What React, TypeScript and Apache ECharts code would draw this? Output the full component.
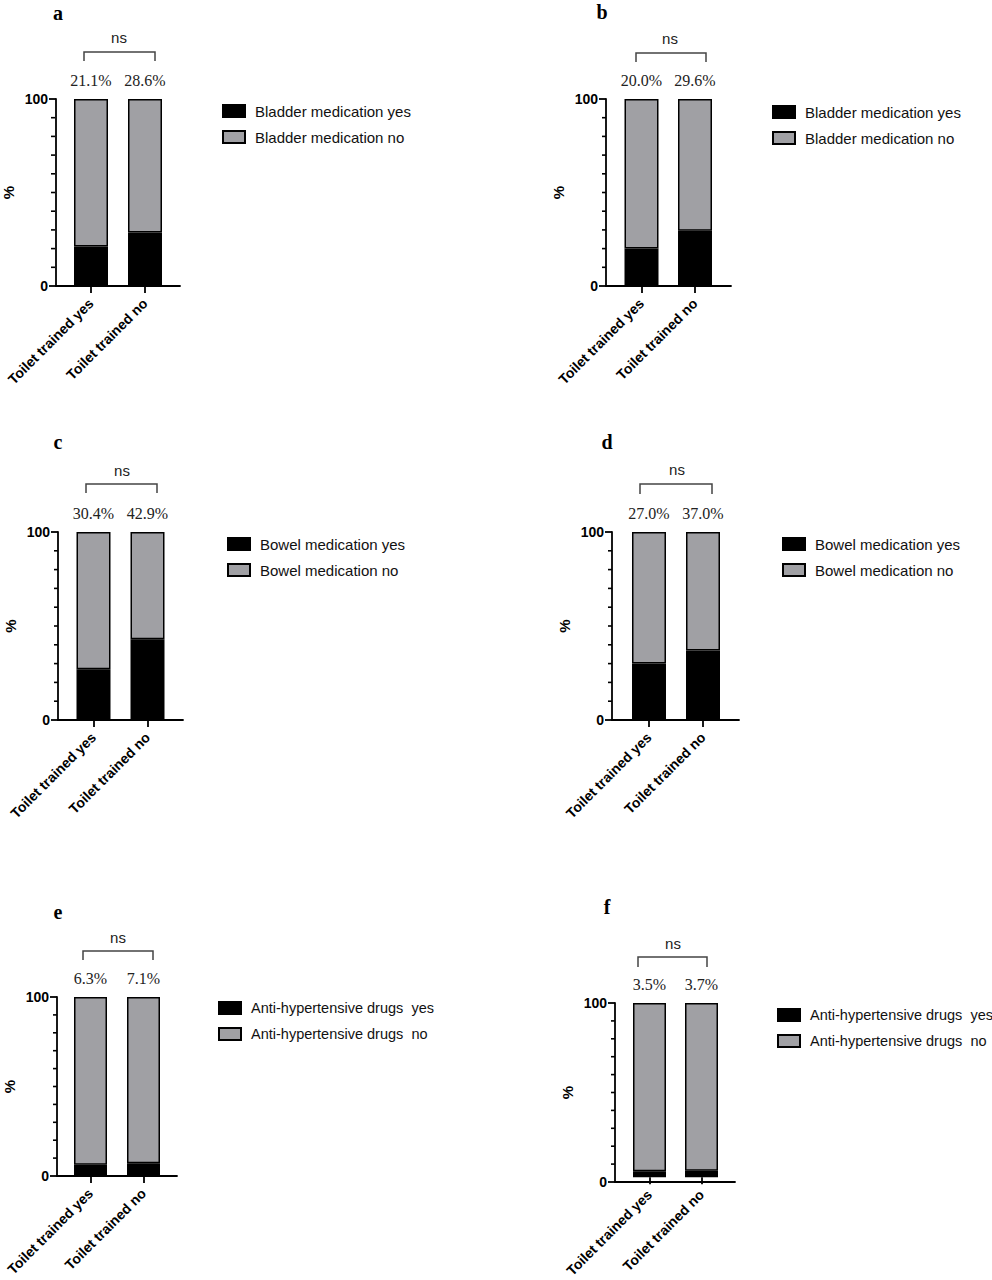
import React, { useEffect, useRef } from "react";
import * as echarts from "echarts";

// ---------- data ----------
const categories = ["Toilet trained yes", "Toilet trained no"];
const panelLetters = ["a", "b", "c", "d", "e", "f"];

const legendYes = [
  "Bladder medication yes",
  "Bladder medication yes",
  "Bowel medication yes",
  "Bowel medication yes",
  "Anti-hypertensive drugs  yes",
  "Anti-hypertensive drugs  yes",
];
const legendNo = [
  "Bladder medication no",
  "Bladder medication no",
  "Bowel medication no",
  "Bowel medication no",
  "Anti-hypertensive drugs  no",
  "Anti-hypertensive drugs  no",
];

const yesA = [21.1, 28.6];
const noA = [78.9, 71.4];
const yesB = [20.0, 29.6];
const noB = [80.0, 70.4];
const yesC = [27.0, 42.9];
const noC = [73.0, 57.1];
const yesD = [30.0, 37.0];
const noD = [70.0, 63.0];
const yesE = [6.3, 7.1];
const noE = [93.7, 92.9];
const yesF = [3.5, 3.7];
const noF = [96.5, 96.3];

const pctA = ["21.1%", "28.6%"];
const pctB = ["20.0%", "29.6%"];
const pctC = ["30.4%", "42.9%"];
const pctD = ["27.0%", "37.0%"];
const pctE = ["6.3%", "7.1%"];
const pctF = ["3.5%", "3.7%"];

const sigLabel = "ns";
const yTickValues = [0, 100];
const yMinorTickValues = [10, 20, 30, 40, 50, 60, 70, 80, 90];
const yAxisName = "%";

const yesSeries = [yesA, yesB, yesC, yesD, yesE, yesF];
const noSeries = [noA, noB, noC, noD, noE, noF];
const pctSeries = [pctA, pctB, pctC, pctD, pctE, pctF];

// ---------- layout (pixels) ----------
type Layout = {
  left: number; top: number; width: number; height: number;
  c1: number; c2: number; barW: number;
  letter: [number, number]; ns: [number, number];
  br: [number, number, number, number];
  legend: [number, number]; legendFont: number;
};
const layouts: Layout[] = [
  { left: 55, top: 99, width: 125, height: 187, c1: 91, c2: 145, barW: 34, letter: [58, 13], ns: [119, 37], br: [84, 155, 52, 61], legend: [222, 105], legendFont: 15 },
  { left: 606, top: 99, width: 125, height: 187, c1: 641.5, c2: 695, barW: 34, letter: [602, 12], ns: [670, 38], br: [636, 706, 53, 62], legend: [772, 106], legendFont: 15 },
  { left: 58, top: 532, width: 125, height: 188, c1: 93.5, c2: 147.5, barW: 34, letter: [58, 442], ns: [122, 470], br: [86, 157, 484, 493], legend: [227, 538], legendFont: 15 },
  { left: 612, top: 532, width: 127, height: 188, c1: 649, c2: 703, barW: 34, letter: [607, 442], ns: [677, 469], br: [640, 712, 484, 494], legend: [782, 538], legendFont: 15 },
  { left: 57, top: 997, width: 120, height: 179, c1: 90.5, c2: 143.5, barW: 33, letter: [58, 912], ns: [118, 937], br: [83, 153, 951, 960], legend: [218, 1002], legendFont: 14.5 },
  { left: 615, top: 1003, width: 120, height: 179, c1: 649.5, c2: 701.5, barW: 33, letter: [607, 907], ns: [673, 943], br: [638, 707, 957, 967], legend: [777, 1009], legendFont: 14.5 },
];

const SANS = "'Liberation Sans', Arial, Helvetica, sans-serif";
const SERIF = "'Liberation Serif', 'Times New Roman', serif";
const GREY = "#a0a0a4";

function buildOption() {
  const grid: any[] = [];
  const xAxis: any[] = [];
  const yAxis: any[] = [];
  const series: any[] = [];
  const legend: any[] = [];
  const graphic: any[] = [];

  layouts.forEach((L, i) => {
    const outerGrid = grid.length;
    const unit = L.c2 - L.c1;
    grid.push({ left: L.left, top: L.top, width: L.width, height: L.height });
    const innerGrid = grid.length;
    grid.push({ left: L.c1 - unit / 2, top: L.top, width: 2 * unit, height: L.height });

    xAxis.push({
      type: "value",
      gridIndex: outerGrid,
      min: 0,
      max: 1,
      splitLine: { show: false },
      axisLine: { show: true, onZero: false, lineStyle: { color: "#000", width: 1.8 } },
      axisTick: { show: false },
      axisLabel: { show: false },
    });
    const innerX = xAxis.length;
    xAxis.push({
      type: "category",
      gridIndex: innerGrid,
      data: categories,
      boundaryGap: true,
      axisLine: { show: false, onZero: false },
      axisTick: { show: true, alignWithLabel: true, length: 7, lineStyle: { color: "#000", width: 1.8 } },
      axisLabel: {
        show: true,
        interval: 0,
        rotate: 45,
        margin: 15,
        color: "#000",
        fontFamily: SANS,
        fontWeight: "bold",
        fontSize: 14,
      },
    });

    yAxis.push({
      type: "value",
      gridIndex: outerGrid,
      position: "left",
      min: yTickValues[0],
      max: yTickValues[1],
      interval: 100,
      name: yAxisName,
      nameLocation: "middle",
      nameGap: 40,
      nameTextStyle: { color: "#000", fontFamily: SANS, fontWeight: "bold", fontSize: 15 },
      splitLine: { show: false },
      axisLine: { show: true, onZero: false, lineStyle: { color: "#000", width: 1.8 } },
      axisTick: { show: true, length: 7, lineStyle: { color: "#000", width: 1.8 } },
      axisLabel: { color: "#000", fontFamily: SANS, fontWeight: "bold", fontSize: 14, margin: 8 },
    });
    const innerY = yAxis.length;
    yAxis.push({
      type: "value",
      gridIndex: innerGrid,
      min: yTickValues[0],
      max: yTickValues[1],
      show: false,
      splitLine: { show: false },
    });

    const stack = "s" + i;
    series.push({
      type: "bar",
      name: legendYes[i],
      xAxisIndex: innerX,
      yAxisIndex: innerY,
      stack,
      barWidth: L.barW,
      data: yesSeries[i],
      itemStyle: { color: "#000", borderColor: "#000", borderWidth: 1.5 },
    });
    series.push({
      type: "bar",
      name: legendNo[i],
      xAxisIndex: innerX,
      yAxisIndex: innerY,
      stack,
      barWidth: L.barW,
      data: noSeries[i],
      itemStyle: { color: GREY, borderColor: "#000", borderWidth: 1.5 },
      label: {
        show: true,
        position: "top",
        distance: 11,
        formatter: (p: any) => pctSeries[i][p.dataIndex],
        color: "#222",
        fontFamily: SERIF,
        fontSize: 16,
      },
    });
    legend.push({
      orient: "vertical",
      left: L.legend[0],
      top: L.legend[1] - 1.5,
      padding: 0,
      itemWidth: 22,
      itemHeight: 12,
      itemGap: 11,
      icon: "rect",
      selectedMode: false,
      data: [legendYes[i], legendNo[i]],
      textStyle: { fontFamily: SANS, fontSize: L.legendFont, color: "#111", lineHeight: 15, padding: [0, 0, 0, 5] },
    });
    graphic.push({
      type: "text",
      x: L.letter[0],
      y: L.letter[1],
      style: { text: panelLetters[i], fontFamily: SERIF, fontWeight: "bold", fontSize: 20, fill: "#000", align: "center", verticalAlign: "middle" },
    });
    graphic.push({
      type: "text",
      x: L.ns[0],
      y: L.ns[1],
      style: { text: sigLabel, fontFamily: SANS, fontSize: 15, fill: "#222", align: "center", verticalAlign: "middle" },
    });
    graphic.push({
      type: "polyline",
      shape: { points: [[L.br[0], L.br[3]], [L.br[0], L.br[2]], [L.br[1], L.br[2]], [L.br[1], L.br[3]]] },
      style: { stroke: "#444", lineWidth: 1.5, fill: "none" },
    });
    // minor ticks every 10 % on the y axis
    yMinorTickValues.forEach((v) => {
      const yy = L.top + L.height * (1 - (v - yTickValues[0]) / (yTickValues[1] - yTickValues[0]));
      graphic.push({
        type: "line",
        shape: { x1: L.left - 4, y1: yy, x2: L.left, y2: yy },
        style: { stroke: "#000", lineWidth: 1.6 },
      });
    });
  });

  return { animation: false, backgroundColor: "#fff", grid, xAxis, yAxis, series, legend, graphic };
}

export default function App() {
  const ref = useRef<HTMLDivElement>(null);
  useEffect(() => {
    document.body.style.margin = "0";
    if (!ref.current) return;
    const chart = echarts.init(ref.current, undefined, { renderer: "svg" });
    chart.setOption(buildOption() as any);
    return () => chart.dispose();
  }, []);
  return <div ref={ref} style={{ width: 992, height: 1280 }} />;
}
